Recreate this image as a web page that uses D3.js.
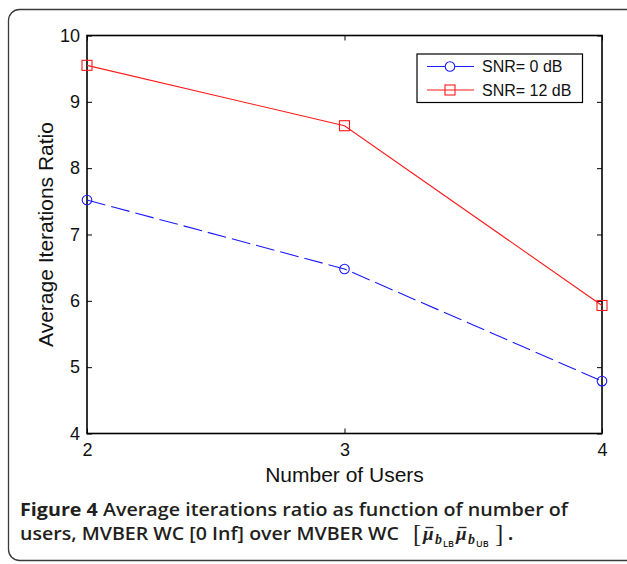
<!DOCTYPE html>
<html><head><meta charset="utf-8">
<script src="https://cdn.jsdelivr.net/npm/d3@7"></script>
<style>html,body{margin:0;padding:0;background:#fff;}svg{display:block;}</style>
</head><body>
<svg id="chart" width="627" height="564"></svg>
<script>
const users = [2, 3, 4];
const snr0 = [7.52, 6.48, 4.79];
const snr12 = [9.55, 8.64, 5.93];
const seriesNames = ["SNR= 0 dB", "SNR= 12 dB"];
const yTicks = [4, 5, 6, 7, 8, 9, 10];
const xTicks = [2, 3, 4];
const xLabel = "Number of Users";
const yLabel = "Average Iterations Ratio";

const svg = d3.select("#chart");
const L = 87, R = 602, T = 35.5, B = 433.5;
const x = d3.scaleLinear().domain([2, 4]).range([L, R]);
const y = d3.scaleLinear().domain([4, 10]).range([B, T]);
const axFont = "'Liberation Sans', Arial, Helvetica, sans-serif";

// outer frame
svg.append("rect").attr("x", 8.5).attr("y", 9.5).attr("width", 640).attr("height", 551)
  .attr("rx", 11).attr("fill", "none").attr("stroke", "#3a3a3a").attr("stroke-width", 1.3);

// axes with inward ticks (bottom/left labelled, top/right mirrored)
const tl = 5;
const gx = svg.append("g").attr("transform", `translate(0,${B})`)
  .call(d3.axisBottom(x).tickValues(xTicks).tickFormat(d3.format("d")).tickSizeInner(-tl).tickSizeOuter(0).tickPadding(10));
const gy = svg.append("g").attr("transform", `translate(${L},0)`)
  .call(d3.axisLeft(y).tickValues(yTicks).tickFormat(d3.format("d")).tickSizeInner(-tl).tickSizeOuter(0).tickPadding(7));
const gxt = svg.append("g").attr("transform", `translate(0,${T})`)
  .call(d3.axisTop(x).tickValues(xTicks).tickFormat("").tickSizeInner(-tl).tickSizeOuter(0));
const gyr = svg.append("g").attr("transform", `translate(${R},0)`)
  .call(d3.axisRight(y).tickValues(yTicks).tickFormat("").tickSizeInner(-tl).tickSizeOuter(0));
[gx, gy, gxt, gyr].forEach(g => {
  g.select(".domain").remove();
  g.selectAll(".tick line").attr("stroke", "#000").attr("stroke-width", 1);
  g.selectAll("text").attr("font-family", axFont).attr("font-size", 18).attr("fill", "#111");
});
gx.selectAll("text").attr("dy", "0.71em");
svg.append("rect").attr("x", L).attr("y", T).attr("width", R - L).attr("height", B - T)
  .attr("fill", "none").attr("stroke", "#000").attr("stroke-width", 1.6);

// lines
const line = d3.line().x((d, i) => x(users[i])).y(d => y(d));
svg.append("path").datum(snr0).attr("d", line).attr("fill", "none")
  .attr("stroke", "#1a1aff").attr("stroke-width", 1.1).attr("stroke-dasharray", "19,6");
svg.append("path").datum(snr12).attr("d", line).attr("fill", "none")
  .attr("stroke", "#ff1a1a").attr("stroke-width", 1.1);
svg.selectAll(".m0").data(snr0).enter().append("circle")
  .attr("cx", (d, i) => x(users[i])).attr("cy", d => y(d)).attr("r", 4.8)
  .attr("fill", "none").attr("stroke", "#1a1aff").attr("stroke-width", 1.1);
svg.selectAll(".m12").data(snr12).enter().append("rect")
  .attr("x", (d, i) => x(users[i]) - 5).attr("y", d => y(d) - 5).attr("width", 10).attr("height", 10)
  .attr("fill", "none").attr("stroke", "#ff1a1a").attr("stroke-width", 1.1);

// axis labels
svg.append("text").attr("x", (L + R) / 2).attr("y", 482).attr("text-anchor", "middle")
  .attr("font-family", axFont).attr("font-size", 21).attr("fill", "#111").text(xLabel);
svg.append("text").attr("transform", `translate(53,${(T + B) / 2}) rotate(-90)`).attr("text-anchor", "middle")
  .attr("font-family", axFont).attr("font-size", 21).attr("fill", "#111").text(yLabel);

// legend
const lg = svg.append("g");
lg.append("rect").attr("x", 417).attr("y", 54).attr("width", 165.5).attr("height", 48.5)
  .attr("fill", "#fff").attr("stroke", "#000").attr("stroke-width", 1.2);
const rows = [66.5, 90];
const cols = ["#1a1aff", "#ff1a1a"];
seriesNames.forEach((nm, i) => {
  lg.append("line").attr("x1", 427).attr("x2", 474).attr("y1", rows[i]).attr("y2", rows[i])
    .attr("stroke", cols[i]).attr("stroke-width", 1.1);
  if (i === 0) lg.append("circle").attr("cx", 450).attr("cy", rows[i]).attr("r", 4.8)
    .attr("fill", "#fff").attr("stroke", cols[i]).attr("stroke-width", 1.1);
  else lg.append("rect").attr("x", 445).attr("y", rows[i] - 5).attr("width", 10).attr("height", 10)
    .attr("fill", "none").attr("stroke", cols[i]).attr("stroke-width", 1.1);
  lg.append("text").attr("x", 482).attr("y", rows[i]).attr("dy", "0.36em")
    .attr("font-family", axFont).attr("font-size", 16).attr("fill", "#111").text(nm);
});

// caption
const capFont = "'Open Sans', 'Noto Sans', sans-serif";
const cap1 = svg.append("text").attr("x", 20).attr("y", 516).attr("font-family", capFont)
  .attr("font-size", 17.5).attr("fill", "#231f20").attr("textLength", 548).attr("lengthAdjust", "spacingAndGlyphs");
cap1.append("tspan").attr("font-weight", 700).text("Figure 4 ");
cap1.append("tspan").attr("font-weight", 600).text("Average iterations ratio as function of number of");
svg.append("text").attr("x", 20).attr("y", 540).attr("font-family", capFont)
  .attr("font-size", 17.5).attr("font-weight", 600).attr("fill", "#231f20")
  .attr("textLength", 379).attr("lengthAdjust", "spacingAndGlyphs")
  .text("users, MVBER WC [0 Inf] over MVBER WC");
const mathFont = "'Liberation Serif', 'DejaVu Serif', serif";
const mathParts = [
  {t: "[", x: 413, y: 542, s: 25, st: "normal", w: 400},
  {t: "\u03BC", x: 423, y: 540, s: 19, st: "italic", w: 700, bar: true},
  {t: "b", x: 435, y: 544, s: 14, st: "italic", w: 700},
  {t: "LB", x: 443, y: 547, s: 9, st: "normal", w: 600, sans: true},
  {t: "\u03BC", x: 456, y: 540, s: 19, st: "italic", w: 700, bar: true},
  {t: "b", x: 468, y: 544, s: 14, st: "italic", w: 700},
  {t: "UB", x: 476, y: 547, s: 9, st: "normal", w: 600, sans: true},
  {t: "]", x: 495, y: 542, s: 25, st: "normal", w: 400},
  {t: ".", x: 508, y: 540, s: 18, st: "normal", w: 700, sans: true}
];
mathParts.forEach(p => {
  svg.append("text").attr("x", p.x).attr("y", p.y).attr("font-family", p.sans ? capFont : mathFont)
    .attr("font-size", p.s).attr("font-style", p.st).attr("font-weight", p.w).attr("fill", "#231f20").text(p.t);
  if (p.bar) svg.append("line").attr("x1", p.x + 2.5).attr("x2", p.x + 10.5).attr("y1", 527.5).attr("y2", 527.5)
    .attr("stroke", "#231f20").attr("stroke-width", 1.3);
});
</script>
</body></html>
